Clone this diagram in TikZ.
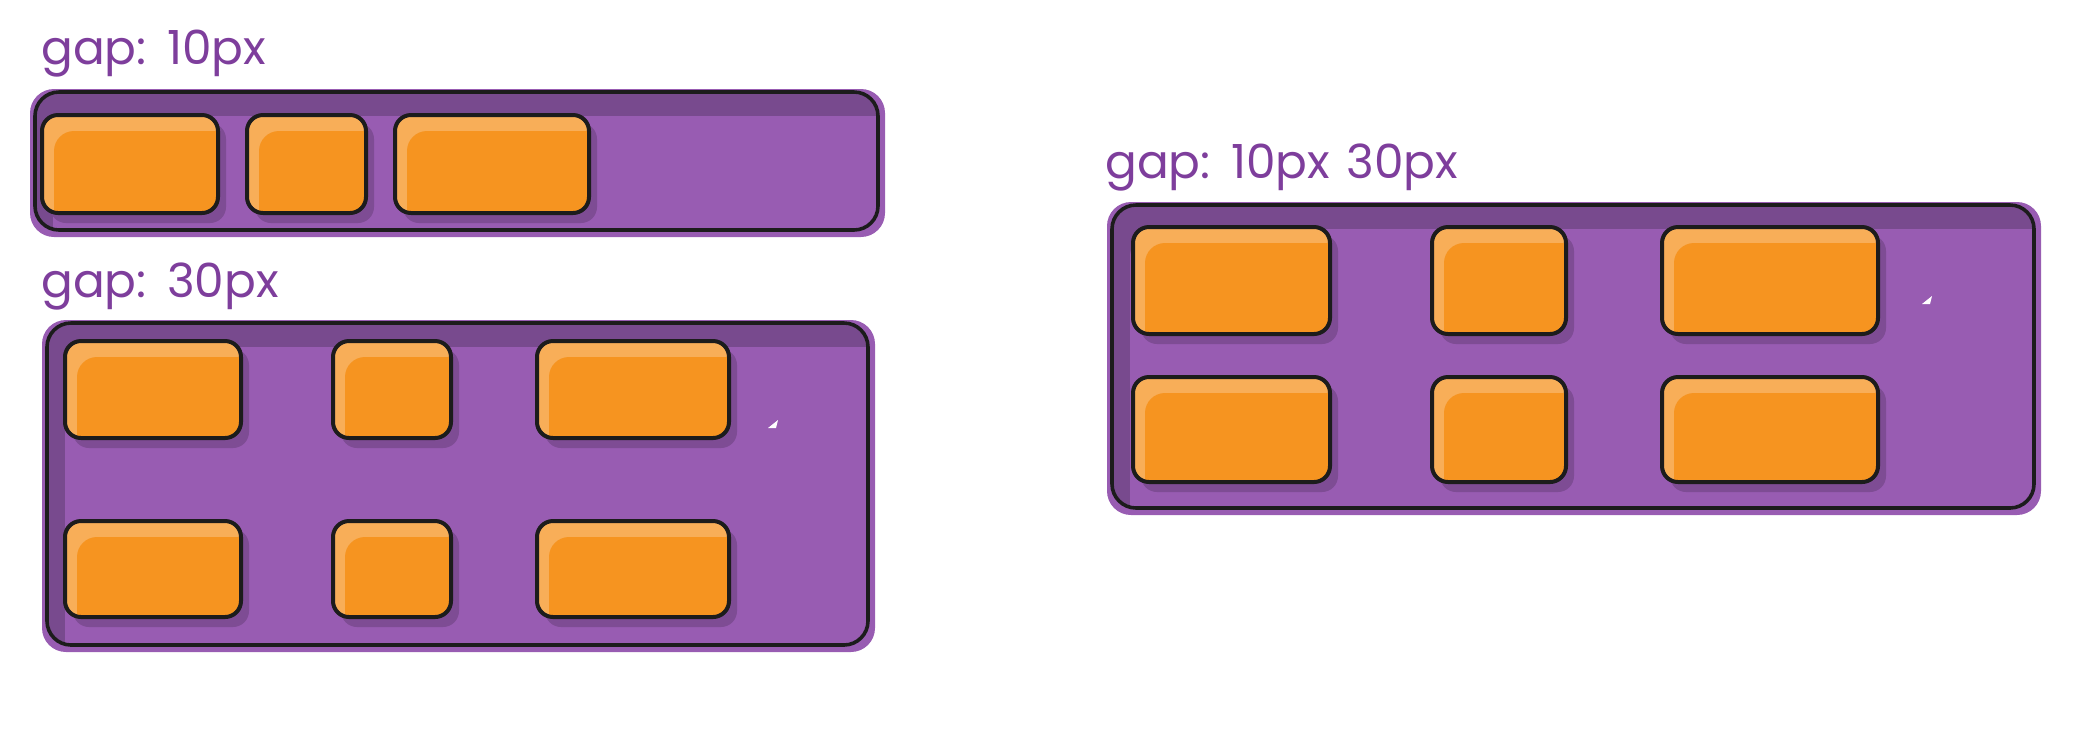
\documentclass[tikz,border=0pt]{standalone}
\usepackage{fontspec}
\setmainfont{Poppins}[WordSpace=1.3]
\definecolor{lblpurple}{RGB}{126,62,156}
\definecolor{boxpurple}{RGB}{152,92,178}
\definecolor{darkpurple}{RGB}{120,74,142}
\definecolor{shadowpurple}{RGB}{126,76,148}
\definecolor{itemorange}{RGB}{246,148,32}
\definecolor{itemlight}{RGB}{248,174,88}
\definecolor{inkline}{RGB}{28,28,28}
\tikzset{
  gaplabel/.style={anchor=base west, inner sep=0pt, text=lblpurple, font=\fontsize{23.5pt}{23.5pt}\selectfont},
  inkborder/.style={draw=inkline, line width=2pt},
}
\newcommand\gapitem[4]{%
  \fill[shadowpurple, rounded corners=8] (#1+8,#2+8) rectangle (#3+8,#4+10);
  \begin{scope}
    \clip[rounded corners=8] (#1,#2) rectangle (#3,#4);
    \fill[itemlight] (#1,#2) rectangle (#3,#4);
    \fill[itemorange, rounded corners=10] (#1+12,#2+16) rectangle (#3+20,#4+20);
  \end{scope}
  \draw[inkborder, rounded corners=8] (#1,#2) rectangle (#3,#4);
}
\newcommand\gapbox[4]{%
  \fill[boxpurple, rounded corners=12] (#1-5,#2-3) rectangle (#3+7,#4+7);
  \begin{scope}
    \clip[rounded corners=12] (#1,#2) rectangle (#3,#4);
    \fill[darkpurple] (#1,#2) rectangle (#3,#4);
    \fill[boxpurple, rounded corners=14] (#1+18,#2+24) rectangle (#3+30,#4+30);
  \end{scope}
  \draw[inkline, line width=1.8pt, rounded corners=12] (#1,#2) rectangle (#3,#4);
}
\begin{document}
\begin{tikzpicture}[x=0.5pt, y=-0.5pt]
\useasboundingbox (0,0) rectangle (2094,752);
% panel 1
\node[gaplabel] (l1) at (41,64) {gap: 10px};
\gapbox{35}{92}{878}{230}
\gapitem{42}{115}{218}{213}
\gapitem{247}{115}{366}{213}
\gapitem{395}{115}{589}{213}
% panel 2
\node[gaplabel] (l2) at (41,297) {gap: 30px};
\gapbox{47}{323}{868}{645}
\gapitem{65}{341}{241}{438}
\gapitem{333}{341}{451}{438}
\gapitem{537}{341}{729}{438}
\gapitem{65}{521}{241}{617}
\gapitem{333}{521}{451}{617}
\gapitem{537}{521}{729}{617}
\fill[white] (768,428) -- (778,420) -- (776,428) -- cycle;
% panel 3
\node[gaplabel] (l3) at (1105,178) {gap: 10px 30px};
\gapbox{1112}{205}{2034}{508}
\gapitem{1133}{227}{1330}{334}
\gapitem{1432}{227}{1566}{334}
\gapitem{1662}{227}{1878}{334}
\gapitem{1133}{377}{1330}{482}
\gapitem{1432}{377}{1566}{482}
\gapitem{1662}{377}{1878}{482}
\fill[white] (1922,304) -- (1932,296) -- (1930,304) -- cycle;
\end{tikzpicture}
\end{document}
